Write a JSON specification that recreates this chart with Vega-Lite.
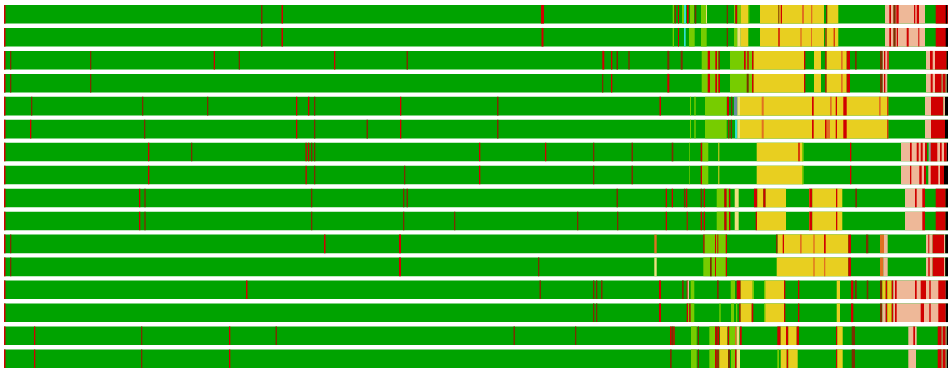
{
"$schema":"https://vega.github.io/schema/vega-lite/v6.json",
"width":950,"height":370,
"autosize":{"type":"fit","contains":"padding"},
"padding":{"left":4,"right":2,"top":5,"bottom":2},
"background":"white",
"config":{"view":{"stroke":null}},
"data":{"values":[
{"r":1,"a":4,"b":948,"c":"G"},{"r":1,"a":4,"b":5.5,"c":"R"},{"r":1,"a":261,"b":262.5,"c":"B"},{"r":1,"a":281.5,"b":283,"c":"R"},{"r":1,"a":541,"b":544,"c":"R"},{"r":1,"a":672.7,"b":674,"c":"L"},{"r":1,"a":674.7,"b":675.7,"c":"R"},{"r":1,"a":678,"b":679,"c":"R"},{"r":1,"a":682,"b":684,"c":"L"},{"r":1,"a":684,"b":686,"c":"C"},{"r":1,"a":687,"b":688.7,"c":"R"},{"r":1,"a":690,"b":694,"c":"L"},{"r":1,"a":694.7,"b":696.3,"c":"B"},{"r":1,"a":701,"b":706.7,"c":"L"},{"r":1,"a":706,"b":707,"c":"P"},{"r":1,"a":726.7,"b":728,"c":"B"},{"r":1,"a":734,"b":735.3,"c":"L"},{"r":1,"a":735.3,"b":737.3,"c":"R"},{"r":1,"a":737.3,"b":740.7,"c":"L"},{"r":1,"a":740.7,"b":748.3,"c":"Y"},{"r":1,"a":748.3,"b":749.3,"c":"L"},{"r":1,"a":760,"b":838.3,"c":"Y"},{"r":1,"a":778.3,"b":779.3,"c":"B"},{"r":1,"a":780.7,"b":782,"c":"R"},{"r":1,"a":802,"b":804,"c":"O"},{"r":1,"a":811,"b":812.3,"c":"O"},{"r":1,"a":824,"b":826,"c":"G"},{"r":1,"a":826,"b":827.3,"c":"B"},{"r":1,"a":885,"b":925,"c":"S"},{"r":1,"a":889.3,"b":891,"c":"R"},{"r":1,"a":893.3,"b":895.7,"c":"B"},{"r":1,"a":896.3,"b":898.7,"c":"R"},{"r":1,"a":914,"b":915.3,"c":"R"},{"r":1,"a":916.7,"b":919,"c":"R"},{"r":1,"a":935.7,"b":948,"c":"R"},{"r":1,"a":945.7,"b":947.3,"c":"K"},
{"r":2,"a":4,"b":948,"c":"G"},{"r":2,"a":4,"b":5.5,"c":"R"},{"r":2,"a":261,"b":262.5,"c":"B"},{"r":2,"a":281.5,"b":283,"c":"R"},{"r":2,"a":541.5,"b":543.5,"c":"R"},{"r":2,"a":672.7,"b":674,"c":"L"},{"r":2,"a":678,"b":679,"c":"R"},{"r":2,"a":684,"b":685.7,"c":"C"},{"r":2,"a":689,"b":694.7,"c":"L"},{"r":2,"a":701,"b":706.7,"c":"L"},{"r":2,"a":726.7,"b":728,"c":"B"},{"r":2,"a":734,"b":737.3,"c":"L"},{"r":2,"a":737.3,"b":740.7,"c":"P"},{"r":2,"a":740.7,"b":748.3,"c":"Y"},{"r":2,"a":760,"b":838.3,"c":"Y"},{"r":2,"a":778.3,"b":779.7,"c":"R"},{"r":2,"a":800.3,"b":801.7,"c":"O"},{"r":2,"a":811,"b":812,"c":"O"},{"r":2,"a":824,"b":825.3,"c":"G"},{"r":2,"a":825.3,"b":826.7,"c":"B"},{"r":2,"a":833.7,"b":834.7,"c":"R"},{"r":2,"a":885,"b":925,"c":"S"},{"r":2,"a":889.3,"b":891,"c":"R"},{"r":2,"a":893.3,"b":895.7,"c":"B"},{"r":2,"a":896.7,"b":898,"c":"R"},{"r":2,"a":906.7,"b":908.7,"c":"R"},{"r":2,"a":918.3,"b":919.3,"c":"R"},{"r":2,"a":935.7,"b":948,"c":"R"},{"r":2,"a":945.7,"b":948,"c":"K"},
{"r":3,"a":4,"b":948,"c":"G"},{"r":3,"a":4,"b":5.5,"c":"R"},{"r":3,"a":10,"b":11.3,"c":"B"},{"r":3,"a":90,"b":91.3,"c":"B"},{"r":3,"a":213.7,"b":215,"c":"R"},{"r":3,"a":238.7,"b":240,"c":"B"},{"r":3,"a":334,"b":335.3,"c":"R"},{"r":3,"a":406.5,"b":408,"c":"B"},{"r":3,"a":602.3,"b":604.3,"c":"R"},{"r":3,"a":611,"b":612.3,"c":"R"},{"r":3,"a":616.5,"b":618,"c":"B"},{"r":3,"a":628.3,"b":629.7,"c":"B"},{"r":3,"a":667.3,"b":669.3,"c":"B"},{"r":3,"a":680.7,"b":682.7,"c":"B"},{"r":3,"a":701.7,"b":720,"c":"L"},{"r":3,"a":707.7,"b":710,"c":"R"},{"r":3,"a":715.3,"b":717,"c":"R"},{"r":3,"a":718.3,"b":720,"c":"B"},{"r":3,"a":730,"b":753.7,"c":"L"},{"r":3,"a":744,"b":745.7,"c":"R"},{"r":3,"a":747.3,"b":748.7,"c":"R"},{"r":3,"a":752,"b":753.7,"c":"R"},{"r":3,"a":753.7,"b":804,"c":"Y"},{"r":3,"a":804,"b":805.3,"c":"R"},{"r":3,"a":814,"b":821,"c":"Y"},{"r":3,"a":825.3,"b":826.7,"c":"R"},{"r":3,"a":826.7,"b":846.7,"c":"Y"},{"r":3,"a":841,"b":842.7,"c":"O"},{"r":3,"a":846.7,"b":850,"c":"R"},{"r":3,"a":855,"b":856.7,"c":"B"},{"r":3,"a":880,"b":882.7,"c":"B"},{"r":3,"a":882.7,"b":888.7,"c":"S"},{"r":3,"a":884,"b":885.3,"c":"R"},{"r":3,"a":887.3,"b":888.7,"c":"R"},{"r":3,"a":926,"b":935,"c":"S"},{"r":3,"a":930,"b":932.7,"c":"R"},{"r":3,"a":935,"b":946.7,"c":"R"},{"r":3,"a":946.7,"b":948,"c":"K"},
{"r":4,"a":4,"b":948,"c":"G"},{"r":4,"a":4,"b":5.5,"c":"R"},{"r":4,"a":10,"b":11.3,"c":"B"},{"r":4,"a":90,"b":91.3,"c":"B"},{"r":4,"a":602,"b":603.3,"c":"B"},{"r":4,"a":611,"b":612.3,"c":"R"},{"r":4,"a":667.3,"b":669.3,"c":"R"},{"r":4,"a":701.7,"b":720,"c":"L"},{"r":4,"a":707.7,"b":710,"c":"R"},{"r":4,"a":715.3,"b":717,"c":"R"},{"r":4,"a":718.3,"b":720,"c":"R"},{"r":4,"a":730,"b":753.7,"c":"L"},{"r":4,"a":746.7,"b":748.7,"c":"B"},{"r":4,"a":752,"b":753.7,"c":"R"},{"r":4,"a":753.7,"b":804,"c":"Y"},{"r":4,"a":804,"b":805.3,"c":"R"},{"r":4,"a":814,"b":821,"c":"Y"},{"r":4,"a":825.3,"b":826.7,"c":"R"},{"r":4,"a":826.7,"b":846.7,"c":"Y"},{"r":4,"a":841,"b":842.7,"c":"O"},{"r":4,"a":846.7,"b":850,"c":"R"},{"r":4,"a":880,"b":882.7,"c":"B"},{"r":4,"a":882.7,"b":887.3,"c":"S"},{"r":4,"a":884,"b":885.3,"c":"R"},{"r":4,"a":926,"b":935,"c":"S"},{"r":4,"a":930.7,"b":932.7,"c":"R"},{"r":4,"a":935,"b":941.7,"c":"R"},{"r":4,"a":941.7,"b":942.7,"c":"S"},{"r":4,"a":942.7,"b":945.7,"c":"R"},{"r":4,"a":945.7,"b":946.7,"c":"S"},{"r":4,"a":946.7,"b":948,"c":"K"},
{"r":5,"a":4,"b":948,"c":"G"},{"r":5,"a":4,"b":5.5,"c":"R"},{"r":5,"a":31,"b":32.3,"c":"B"},{"r":5,"a":142,"b":143.3,"c":"B"},{"r":5,"a":207,"b":208.3,"c":"B"},{"r":5,"a":296,"b":297.3,"c":"R"},{"r":5,"a":308,"b":309.3,"c":"R"},{"r":5,"a":314,"b":315.3,"c":"B"},{"r":5,"a":400,"b":401.3,"c":"R"},{"r":5,"a":497,"b":498.5,"c":"B"},{"r":5,"a":659.5,"b":661,"c":"R"},{"r":5,"a":690,"b":691,"c":"L"},{"r":5,"a":694.3,"b":695.7,"c":"L"},{"r":5,"a":705,"b":726.7,"c":"L"},{"r":5,"a":727,"b":729,"c":"R"},{"r":5,"a":731,"b":732.3,"c":"B"},{"r":5,"a":734,"b":737.3,"c":"V"},{"r":5,"a":737.3,"b":740,"c":"P"},{"r":5,"a":740,"b":888.3,"c":"Y"},{"r":5,"a":761.7,"b":763.7,"c":"O"},{"r":5,"a":812,"b":813.7,"c":"R"},{"r":5,"a":830,"b":831.7,"c":"O"},{"r":5,"a":835.7,"b":837,"c":"R"},{"r":5,"a":843.3,"b":846.7,"c":"R"},{"r":5,"a":879,"b":880.7,"c":"O"},{"r":5,"a":887.3,"b":888.3,"c":"R"},{"r":5,"a":925,"b":931,"c":"S"},{"r":5,"a":931,"b":943.3,"c":"R"},{"r":5,"a":943.3,"b":945,"c":"S"},{"r":5,"a":945,"b":948,"c":"K"},
{"r":6,"a":4,"b":948,"c":"G"},{"r":6,"a":4,"b":5.5,"c":"R"},{"r":6,"a":30,"b":31.3,"c":"R"},{"r":6,"a":144,"b":145.3,"c":"B"},{"r":6,"a":296,"b":297.3,"c":"R"},{"r":6,"a":314,"b":315.3,"c":"B"},{"r":6,"a":366.5,"b":368,"c":"B"},{"r":6,"a":400,"b":401.3,"c":"R"},{"r":6,"a":497,"b":498.5,"c":"B"},{"r":6,"a":690,"b":691,"c":"L"},{"r":6,"a":694.3,"b":695.7,"c":"L"},{"r":6,"a":705,"b":726.7,"c":"L"},{"r":6,"a":728.3,"b":729.3,"c":"R"},{"r":6,"a":730.7,"b":732,"c":"B"},{"r":6,"a":735,"b":737.3,"c":"C"},{"r":6,"a":737.3,"b":740,"c":"P"},{"r":6,"a":740,"b":888.3,"c":"Y"},{"r":6,"a":761.7,"b":763.7,"c":"O"},{"r":6,"a":812,"b":813.7,"c":"R"},{"r":6,"a":825,"b":826.7,"c":"R"},{"r":6,"a":826.7,"b":830,"c":"O"},{"r":6,"a":835.7,"b":837,"c":"R"},{"r":6,"a":843.3,"b":846.7,"c":"R"},{"r":6,"a":887.3,"b":888.3,"c":"R"},{"r":6,"a":925,"b":931,"c":"S"},{"r":6,"a":931,"b":945,"c":"R"},{"r":6,"a":945,"b":948,"c":"K"},
{"r":7,"a":4,"b":948,"c":"G"},{"r":7,"a":4,"b":5.5,"c":"R"},{"r":7,"a":148,"b":149.3,"c":"R"},{"r":7,"a":191,"b":192.3,"c":"B"},{"r":7,"a":305.5,"b":306.8,"c":"R"},{"r":7,"a":308,"b":309.3,"c":"R"},{"r":7,"a":311,"b":312.3,"c":"B"},{"r":7,"a":314,"b":315.3,"c":"B"},{"r":7,"a":479,"b":480.3,"c":"R"},{"r":7,"a":545,"b":546.3,"c":"R"},{"r":7,"a":593,"b":594.3,"c":"B"},{"r":7,"a":631.5,"b":633,"c":"B"},{"r":7,"a":671.7,"b":673.3,"c":"B"},{"r":7,"a":689.3,"b":690,"c":"L"},{"r":7,"a":700.7,"b":702.3,"c":"R"},{"r":7,"a":702.3,"b":708.3,"c":"L"},{"r":7,"a":718.3,"b":719.3,"c":"Y"},{"r":7,"a":756.7,"b":803.3,"c":"Y"},{"r":7,"a":798.3,"b":799.7,"c":"R"},{"r":7,"a":802,"b":803.3,"c":"L"},{"r":7,"a":850,"b":851.3,"c":"R"},{"r":7,"a":901,"b":948,"c":"S"},{"r":7,"a":910,"b":911.7,"c":"R"},{"r":7,"a":916.7,"b":918.7,"c":"R"},{"r":7,"a":920.7,"b":922.7,"c":"R"},{"r":7,"a":925,"b":927,"c":"R"},{"r":7,"a":927,"b":928.7,"c":"G"},{"r":7,"a":929.3,"b":930.7,"c":"V"},{"r":7,"a":930.7,"b":937.3,"c":"R"},{"r":7,"a":940,"b":941.7,"c":"R"},{"r":7,"a":944,"b":946.7,"c":"R"},{"r":7,"a":946.7,"b":948,"c":"K"},
{"r":8,"a":4,"b":948,"c":"G"},{"r":8,"a":4,"b":5.5,"c":"R"},{"r":8,"a":148,"b":149.3,"c":"R"},{"r":8,"a":305.5,"b":306.8,"c":"R"},{"r":8,"a":314,"b":315.3,"c":"B"},{"r":8,"a":404,"b":405.3,"c":"B"},{"r":8,"a":479,"b":480.3,"c":"R"},{"r":8,"a":593,"b":594.3,"c":"B"},{"r":8,"a":631.5,"b":633,"c":"B"},{"r":8,"a":689.3,"b":690,"c":"L"},{"r":8,"a":700.7,"b":702,"c":"R"},{"r":8,"a":702,"b":708.3,"c":"L"},{"r":8,"a":718.3,"b":719.3,"c":"Y"},{"r":8,"a":756.7,"b":803.3,"c":"Y"},{"r":8,"a":802,"b":803.3,"c":"L"},{"r":8,"a":850,"b":851.3,"c":"R"},{"r":8,"a":901,"b":948,"c":"S"},{"r":8,"a":910,"b":911.3,"c":"R"},{"r":8,"a":919.3,"b":921.7,"c":"R"},{"r":8,"a":924,"b":926,"c":"R"},{"r":8,"a":926,"b":928.3,"c":"G"},{"r":8,"a":930.7,"b":938.3,"c":"R"},{"r":8,"a":940,"b":944,"c":"R"},{"r":8,"a":944,"b":948,"c":"K"},
{"r":9,"a":4,"b":948,"c":"G"},{"r":9,"a":4,"b":5.5,"c":"R"},{"r":9,"a":139,"b":140.3,"c":"R"},{"r":9,"a":144.3,"b":145.7,"c":"B"},{"r":9,"a":311,"b":312.3,"c":"B"},{"r":9,"a":403,"b":404.3,"c":"B"},{"r":9,"a":406.5,"b":408,"c":"B"},{"r":9,"a":616.5,"b":618,"c":"B"},{"r":9,"a":665.7,"b":667,"c":"R"},{"r":9,"a":671.7,"b":673,"c":"R"},{"r":9,"a":684,"b":685.3,"c":"B"},{"r":9,"a":686,"b":687.3,"c":"R"},{"r":9,"a":700.7,"b":702,"c":"B"},{"r":9,"a":703.7,"b":705,"c":"R"},{"r":9,"a":716.7,"b":724.3,"c":"L"},{"r":9,"a":724.3,"b":726.7,"c":"R"},{"r":9,"a":726.7,"b":728.7,"c":"L"},{"r":9,"a":729,"b":730.3,"c":"R"},{"r":9,"a":734.7,"b":738.7,"c":"P"},{"r":9,"a":754,"b":757.3,"c":"R"},{"r":9,"a":757.3,"b":763.3,"c":"Y"},{"r":9,"a":763.3,"b":765.7,"c":"R"},{"r":9,"a":765.7,"b":786,"c":"Y"},{"r":9,"a":809,"b":810,"c":"Y"},{"r":9,"a":809.3,"b":812.3,"c":"R"},{"r":9,"a":812.3,"b":842.3,"c":"Y"},{"r":9,"a":836,"b":837.3,"c":"R"},{"r":9,"a":855.3,"b":857,"c":"B"},{"r":9,"a":905,"b":925,"c":"S"},{"r":9,"a":915,"b":916.7,"c":"R"},{"r":9,"a":922.3,"b":925,"c":"R"},{"r":9,"a":935.7,"b":945.7,"c":"R"},{"r":9,"a":945.7,"b":948,"c":"K"},
{"r":10,"a":4,"b":948,"c":"G"},{"r":10,"a":4,"b":5.5,"c":"R"},{"r":10,"a":139,"b":140.3,"c":"R"},{"r":10,"a":144.3,"b":145.7,"c":"B"},{"r":10,"a":311,"b":312.3,"c":"B"},{"r":10,"a":403,"b":404.3,"c":"B"},{"r":10,"a":454,"b":455.3,"c":"B"},{"r":10,"a":577,"b":578.3,"c":"B"},{"r":10,"a":617,"b":618.3,"c":"B"},{"r":10,"a":665.7,"b":667,"c":"R"},{"r":10,"a":686.7,"b":687.7,"c":"R"},{"r":10,"a":700.7,"b":702,"c":"R"},{"r":10,"a":703.7,"b":705,"c":"R"},{"r":10,"a":716.7,"b":724.3,"c":"L"},{"r":10,"a":724.3,"b":726.7,"c":"R"},{"r":10,"a":726.7,"b":729,"c":"L"},{"r":10,"a":729,"b":730.3,"c":"R"},{"r":10,"a":734.7,"b":738.7,"c":"P"},{"r":10,"a":755.7,"b":757,"c":"R"},{"r":10,"a":757,"b":786,"c":"Y"},{"r":10,"a":809,"b":810,"c":"Y"},{"r":10,"a":809.3,"b":812.3,"c":"R"},{"r":10,"a":812.3,"b":842.3,"c":"Y"},{"r":10,"a":836,"b":837.3,"c":"R"},{"r":10,"a":905,"b":925,"c":"S"},{"r":10,"a":922.3,"b":925,"c":"R"},{"r":10,"a":935.7,"b":945.7,"c":"R"},{"r":10,"a":945.7,"b":948,"c":"K"},
{"r":11,"a":4,"b":948,"c":"G"},{"r":11,"a":4,"b":5.5,"c":"R"},{"r":11,"a":10,"b":11.3,"c":"B"},{"r":11,"a":324,"b":325.5,"c":"R"},{"r":11,"a":399,"b":401,"c":"R"},{"r":11,"a":654.3,"b":656.7,"c":"O"},{"r":11,"a":703.3,"b":704.7,"c":"R"},{"r":11,"a":704.7,"b":727,"c":"L"},{"r":11,"a":715,"b":716,"c":"R"},{"r":11,"a":717.3,"b":718.3,"c":"R"},{"r":11,"a":725.7,"b":727,"c":"R"},{"r":11,"a":776,"b":777.7,"c":"B"},{"r":11,"a":777.7,"b":848.3,"c":"Y"},{"r":11,"a":782.7,"b":784,"c":"R"},{"r":11,"a":800,"b":801.7,"c":"O"},{"r":11,"a":813.3,"b":814.7,"c":"O"},{"r":11,"a":824,"b":825.7,"c":"R"},{"r":11,"a":848.3,"b":851,"c":"R"},{"r":11,"a":866,"b":868.3,"c":"B"},{"r":11,"a":880,"b":884,"c":"O"},{"r":11,"a":884,"b":887.7,"c":"S"},{"r":11,"a":926,"b":932.7,"c":"S"},{"r":11,"a":928.3,"b":929.3,"c":"R"},{"r":11,"a":932.7,"b":944,"c":"R"},{"r":11,"a":944,"b":945.3,"c":"S"},{"r":11,"a":945.3,"b":948,"c":"K"},
{"r":12,"a":4,"b":948,"c":"G"},{"r":12,"a":4,"b":5.5,"c":"R"},{"r":12,"a":10,"b":11.3,"c":"B"},{"r":12,"a":399,"b":401,"c":"R"},{"r":12,"a":538,"b":539.3,"c":"B"},{"r":12,"a":654.3,"b":656.7,"c":"P"},{"r":12,"a":703.3,"b":726.7,"c":"L"},{"r":12,"a":710,"b":711.7,"c":"B"},{"r":12,"a":715,"b":716,"c":"R"},{"r":12,"a":725.7,"b":727,"c":"R"},{"r":12,"a":776.7,"b":848.3,"c":"Y"},{"r":12,"a":813.3,"b":814.7,"c":"O"},{"r":12,"a":824,"b":825.3,"c":"O"},{"r":12,"a":848.3,"b":851,"c":"R"},{"r":12,"a":880,"b":883.3,"c":"O"},{"r":12,"a":883.3,"b":887.7,"c":"S"},{"r":12,"a":926,"b":932.7,"c":"S"},{"r":12,"a":928.3,"b":929.7,"c":"R"},{"r":12,"a":932.7,"b":944,"c":"R"},{"r":12,"a":944,"b":945.3,"c":"S"},{"r":12,"a":945.3,"b":948,"c":"K"},
{"r":13,"a":4,"b":948,"c":"G"},{"r":13,"a":4,"b":5.5,"c":"R"},{"r":13,"a":246,"b":247.5,"c":"R"},{"r":13,"a":539.5,"b":541,"c":"B"},{"r":13,"a":593,"b":594.3,"c":"B"},{"r":13,"a":596,"b":597.3,"c":"B"},{"r":13,"a":601,"b":602.5,"c":"B"},{"r":13,"a":659,"b":661,"c":"R"},{"r":13,"a":682,"b":683.7,"c":"B"},{"r":13,"a":686.7,"b":687.7,"c":"R"},{"r":13,"a":687.7,"b":689,"c":"S"},{"r":13,"a":690.7,"b":694.3,"c":"L"},{"r":13,"a":717,"b":718.7,"c":"B"},{"r":13,"a":730.7,"b":735,"c":"L"},{"r":13,"a":736.7,"b":740.7,"c":"R"},{"r":13,"a":740.7,"b":752.7,"c":"Y"},{"r":13,"a":752.7,"b":754,"c":"L"},{"r":13,"a":764,"b":765.3,"c":"L"},{"r":13,"a":765.3,"b":784,"c":"Y"},{"r":13,"a":784,"b":785.3,"c":"R"},{"r":13,"a":798,"b":799.3,"c":"R"},{"r":13,"a":836.7,"b":840,"c":"Y"},{"r":13,"a":851,"b":853.3,"c":"R"},{"r":13,"a":855,"b":856.7,"c":"B"},{"r":13,"a":866.7,"b":868.3,"c":"B"},{"r":13,"a":880,"b":882.3,"c":"B"},{"r":13,"a":882.3,"b":885.7,"c":"Y"},{"r":13,"a":885.7,"b":887.3,"c":"R"},{"r":13,"a":887.3,"b":891.7,"c":"Y"},{"r":13,"a":891.7,"b":893.3,"c":"R"},{"r":13,"a":893.3,"b":948,"c":"S"},{"r":13,"a":895,"b":896.7,"c":"R"},{"r":13,"a":915,"b":916.7,"c":"R"},{"r":13,"a":920.7,"b":926,"c":"R"},{"r":13,"a":929.3,"b":930.7,"c":"R"},{"r":13,"a":938.3,"b":945.7,"c":"R"},{"r":13,"a":945.7,"b":948,"c":"K"},
{"r":14,"a":4,"b":948,"c":"G"},{"r":14,"a":4,"b":5.5,"c":"R"},{"r":14,"a":593,"b":594.3,"c":"B"},{"r":14,"a":596,"b":597.3,"c":"B"},{"r":14,"a":659,"b":661,"c":"R"},{"r":14,"a":686.7,"b":688,"c":"R"},{"r":14,"a":688,"b":689.3,"c":"L"},{"r":14,"a":689.3,"b":690.7,"c":"R"},{"r":14,"a":690.7,"b":694.3,"c":"L"},{"r":14,"a":719.3,"b":720.7,"c":"L"},{"r":14,"a":731,"b":734,"c":"L"},{"r":14,"a":736,"b":737.3,"c":"L"},{"r":14,"a":739.3,"b":740.7,"c":"R"},{"r":14,"a":740.7,"b":751.7,"c":"Y"},{"r":14,"a":751.7,"b":753.3,"c":"R"},{"r":14,"a":764,"b":765.3,"c":"L"},{"r":14,"a":765.3,"b":784,"c":"Y"},{"r":14,"a":784,"b":785.3,"c":"R"},{"r":14,"a":798,"b":799.3,"c":"R"},{"r":14,"a":836.7,"b":840,"c":"Y"},{"r":14,"a":851,"b":853.3,"c":"R"},{"r":14,"a":880,"b":882.3,"c":"B"},{"r":14,"a":882.3,"b":885.7,"c":"S"},{"r":14,"a":885.7,"b":887.3,"c":"R"},{"r":14,"a":887.3,"b":891.7,"c":"Y"},{"r":14,"a":891.7,"b":893.3,"c":"R"},{"r":14,"a":893.3,"b":948,"c":"S"},{"r":14,"a":895,"b":896.7,"c":"R"},{"r":14,"a":920.7,"b":924,"c":"R"},{"r":14,"a":929.3,"b":930.7,"c":"R"},{"r":14,"a":938.3,"b":945.7,"c":"R"},{"r":14,"a":945.7,"b":948,"c":"K"},
{"r":15,"a":4,"b":948,"c":"G"},{"r":15,"a":4,"b":5.5,"c":"R"},{"r":15,"a":34,"b":35.3,"c":"R"},{"r":15,"a":141,"b":142.3,"c":"B"},{"r":15,"a":229,"b":230.3,"c":"R"},{"r":15,"a":275.5,"b":277,"c":"B"},{"r":15,"a":513.5,"b":515,"c":"B"},{"r":15,"a":575,"b":576.3,"c":"B"},{"r":15,"a":670,"b":671.7,"c":"R"},{"r":15,"a":671.7,"b":673.3,"c":"B"},{"r":15,"a":673.3,"b":674.7,"c":"R"},{"r":15,"a":691,"b":696.7,"c":"L"},{"r":15,"a":697.7,"b":699,"c":"B"},{"r":15,"a":709.3,"b":715,"c":"L"},{"r":15,"a":715,"b":716,"c":"R"},{"r":15,"a":716,"b":717.3,"c":"B"},{"r":15,"a":717.3,"b":719.3,"c":"R"},{"r":15,"a":720,"b":727.3,"c":"Y"},{"r":15,"a":727.7,"b":729.3,"c":"R"},{"r":15,"a":729.3,"b":735,"c":"L"},{"r":15,"a":735,"b":736.7,"c":"O"},{"r":15,"a":736.7,"b":739.3,"c":"P"},{"r":15,"a":740,"b":741.7,"c":"R"},{"r":15,"a":777.3,"b":780.7,"c":"R"},{"r":15,"a":780.7,"b":786,"c":"Y"},{"r":15,"a":786,"b":788.3,"c":"R"},{"r":15,"a":788.3,"b":796.7,"c":"Y"},{"r":15,"a":796.7,"b":799,"c":"R"},{"r":15,"a":836,"b":837.3,"c":"R"},{"r":15,"a":837.3,"b":842.7,"c":"Y"},{"r":15,"a":851.7,"b":855,"c":"B"},{"r":15,"a":908.3,"b":916.7,"c":"S"},{"r":15,"a":913.3,"b":915,"c":"R"},{"r":15,"a":937.7,"b":941.7,"c":"R"},{"r":15,"a":941.7,"b":942.7,"c":"S"},{"r":15,"a":942.7,"b":945.7,"c":"R"},{"r":15,"a":945.7,"b":946.7,"c":"S"},{"r":15,"a":946.7,"b":948,"c":"K"},
{"r":16,"a":4,"b":948,"c":"G"},{"r":16,"a":4,"b":5.5,"c":"R"},{"r":16,"a":34,"b":35.3,"c":"R"},{"r":16,"a":141,"b":142.3,"c":"B"},{"r":16,"a":229,"b":230.3,"c":"R"},{"r":16,"a":670,"b":671.7,"c":"B"},{"r":16,"a":691,"b":696.7,"c":"L"},{"r":16,"a":697.7,"b":699,"c":"B"},{"r":16,"a":709.3,"b":715,"c":"L"},{"r":16,"a":715,"b":716.7,"c":"R"},{"r":16,"a":717.3,"b":718.7,"c":"R"},{"r":16,"a":719.3,"b":728,"c":"Y"},{"r":16,"a":728,"b":730,"c":"B"},{"r":16,"a":731,"b":735,"c":"L"},{"r":16,"a":735,"b":736.7,"c":"R"},{"r":16,"a":736.7,"b":740,"c":"P"},{"r":16,"a":777.3,"b":779,"c":"L"},{"r":16,"a":780.7,"b":786.7,"c":"Y"},{"r":16,"a":786.7,"b":788.3,"c":"R"},{"r":16,"a":788.3,"b":797.7,"c":"Y"},{"r":16,"a":836,"b":837.3,"c":"R"},{"r":16,"a":837.3,"b":842.7,"c":"Y"},{"r":16,"a":851.7,"b":855,"c":"B"},{"r":16,"a":908.3,"b":916,"c":"S"},{"r":16,"a":937.7,"b":941.7,"c":"R"},{"r":16,"a":941.7,"b":942.7,"c":"S"},{"r":16,"a":942.7,"b":945.7,"c":"R"},{"r":16,"a":945.7,"b":946.7,"c":"S"},{"r":16,"a":946.7,"b":948,"c":"K"}
]},
"mark":{"type":"bar","strokeWidth":0},
"encoding":{
"x":{"field":"a","type":"quantitative","scale":{"domain":[4,948],"nice":false,"zero":false},"axis":null},
"x2":{"field":"b"},
"y":{"field":"r","type":"ordinal","scale":{"paddingInner":0.19,"paddingOuter":0},"axis":null},
"color":{"field":"c","type":"nominal","legend":null,"scale":{"domain":["G","L","Y","R","B","O","S","K","C","V","P"],"range":["#00a300","#77cc00","#e8cf20","#d00000","#7a3000","#e07020","#eeb898","#000000","#30e0d0","#6a8aa0","#eee080"]}}
}
}
